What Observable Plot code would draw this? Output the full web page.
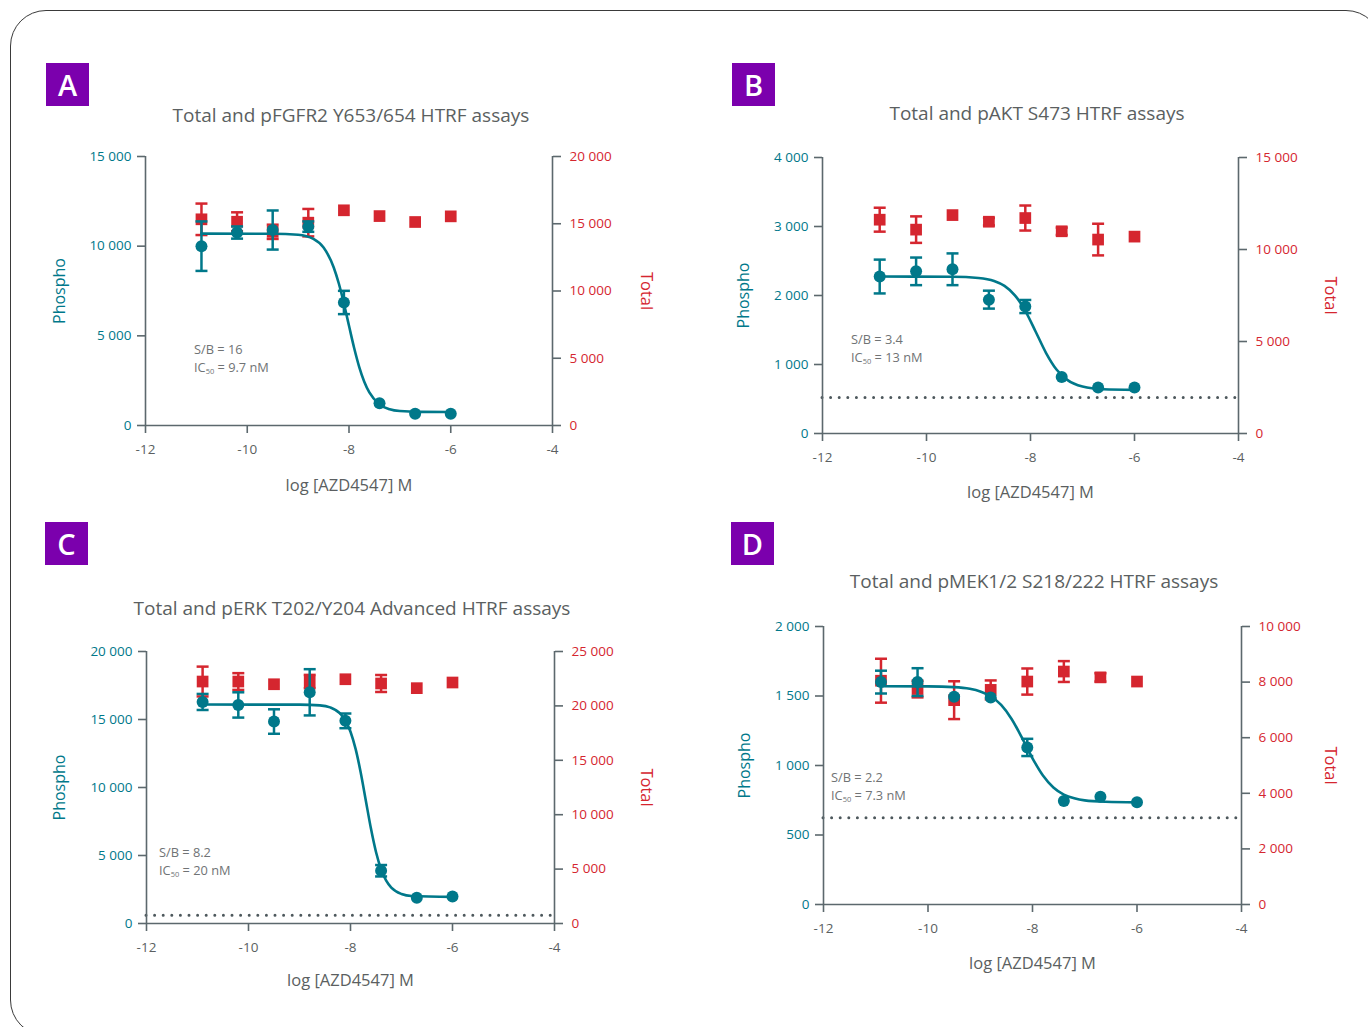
<!DOCTYPE html>
<html>
<head>
<meta charset="utf-8">
<script src="https://cdn.jsdelivr.net/npm/d3@7"></script>
<script src="https://cdn.jsdelivr.net/npm/@observablehq/plot@0.6"></script>
<style>
  html, body { margin: 0; padding: 0; background: #fff; }
  #root { position: relative; width: 1368px; height: 1027px; overflow: hidden; background: #fff;
          font-family: "Open Sans", "Noto Sans", sans-serif; }
  #card { position: absolute; left: 10px; top: 10px; width: 1372px; height: 1026px;
          border: 1.5px solid #3a3a3a; border-radius: 36px; box-sizing: border-box; }
  .letter { position: absolute; width: 43px; height: 43px; background: #7b00ad; color: #fff;
            font-size: 29px; font-weight: 600; line-height: 43px; text-align: center; }
  .title { position: absolute; width: 640px; text-align: center; color: #5b5f61;
           font-size: 19px; line-height: 24px; white-space: nowrap; }
  .note { position: absolute; color: #707375; font-size: 12.8px; line-height: 18px; white-space: nowrap; }
  .note sub { font-size: 7.5px; vertical-align: -2px; }
  .panel { position: absolute; }
</style>
</head>
<body>
<div id="root"><div id="card"></div></div>
<script>
// ---------------- data ----------------
const logDose = [-10.9, -10.2, -9.5, -8.8, -8.1, -7.4, -6.7, -6.0];
const xTicks = [-12, -10, -8, -6, -4];
const panelLetters = ["A", "B", "C", "D"];
const panelTitles = [
  "Total and pFGFR2 Y653/654 HTRF assays",
  "Total and pAKT S473 HTRF assays",
  "Total and pERK T202/Y204 Advanced HTRF assays",
  "Total and pMEK1/2 S218/222 HTRF assays"
];
const sbTexts = ["S/B = 16", "S/B = 3.4", "S/B = 8.2", "S/B = 2.2"];
const ic50Texts = ["9.7 nM", "13 nM", "20 nM", "7.3 nM"];
const xLabel = "log [AZD4547] M";
const leftLabel = "Phospho";
const rightLabel = "Total";

// Panel A
const phosphoA = [10000, 10760, 10900, 11090, 6860, 1240, 660, 660];
const phosphoErrA = [1380, 340, 1090, 290, 650, 0, 0, 0];
const totalA = [15330, 15150, 14400, 15080, 16000, 15570, 15130, 15550];
const totalErrA = [1170, 700, 530, 1020, 0, 0, 0, 0];
const curveXA = [-10.9, -9.5, -9.0, -8.7, -8.5, -8.3, -8.2, -8.1, -8.0, -7.9, -7.8, -7.7, -7.6, -7.4, -7.2, -7.0, -6.6, -6.0];
const curveYA = [10700, 10695, 10634, 10403, 9921, 8813, 7918, 6802, 5561, 4337, 3275, 2442, 1843, 1177, 909, 808, 760, 750];
const phosTicksA = [0, 5000, 10000, 15000];
const totTicksA = [0, 5000, 10000, 15000, 20000];

// Panel B
const phosphoB = [2275, 2350, 2380, 1940, 1840, 820, 665, 665];
const phosphoErrB = [245, 200, 230, 130, 95, 0, 0, 0];
const totalB = [11620, 11080, 11870, 11510, 11710, 10990, 10540, 10700];
const totalErrB = [650, 720, 0, 200, 680, 200, 860, 0];
const curveXB = [-10.9, -9.5, -9.0, -8.7, -8.5, -8.3, -8.1, -7.9, -7.7, -7.5, -7.3, -7.0, -6.6, -6.0];
const curveYB = [2275, 2272, 2254, 2210, 2139, 2003, 1778, 1475, 1166, 927, 781, 680, 641, 632];
const baselineB = [520];
const phosTicksB = [0, 1000, 2000, 3000, 4000];
const totTicksB = [0, 5000, 10000, 15000];

// Panel C
const phosphoC = [16290, 16070, 14850, 17000, 14900, 3880, 1890, 1990];
const phosphoErrC = [590, 930, 900, 1700, 540, 420, 0, 0];
const totalC = [22240, 22240, 21990, 22240, 22450, 22060, 21630, 22150];
const totalErrC = [1370, 770, 0, 610, 0, 780, 0, 0];
const curveXC = [-10.9, -9.0, -8.6, -8.4, -8.2, -8.1, -8.0, -7.9, -7.8, -7.7, -7.6, -7.5, -7.4, -7.3, -7.2, -7.0, -6.8, -6.0];
const curveYC = [16100, 16094, 16036, 15891, 15429, 14925, 14097, 12837, 11106, 9051, 6996, 5256, 3986, 3148, 2640, 2172, 2025, 1960];
const baselineC = [610];
const phosTicksC = [0, 5000, 10000, 15000, 20000];
const totTicksC = [0, 5000, 10000, 15000, 20000, 25000];

// Panel D
const phosphoD = [1600, 1600, 1495, 1490, 1130, 745, 775, 735];
const phosphoErrD = [82, 100, 0, 0, 62, 0, 0, 0];
const totalD = [8050, 7750, 7350, 7720, 8020, 8380, 8170, 8020];
const totalErrD = [790, 300, 680, 340, 470, 375, 150, 0];
const curveXD = [-10.9, -10.0, -9.5, -9.2, -9.0, -8.8, -8.6, -8.4, -8.2, -8.0, -7.8, -7.6, -7.4, -7.2, -7.0, -6.6, -6.0];
const curveYD = [1570, 1569, 1564, 1552, 1533, 1498, 1436, 1335, 1199, 1052, 928, 842, 791, 764, 749, 739, 735];
const baselineD = [625];
const phosTicksD = [0, 500, 1000, 1500, 2000];
const totTicksD = [0, 2000, 4000, 6000, 8000, 10000];

// ---------------- style / layout ----------------
const teal = "#00788a", red = "#d5262f", axisGray = "#5c686d", labelGray = "#5b5f61";
const fmt = d3.formatLocale({decimal: ".", thousands: " ", grouping: [3], currency: ["", ""]}).format(",d");

const layouts = [
  {L: 145, R: 552, T: 156, B: 425, letter: [46, 63], title: [351, 115], note: [194, 340], xdy: 60, pdx: -86, tdx: 94},
  {L: 822, R: 1238, T: 157, B: 433, letter: [732, 63], title: [1037, 113], note: [851, 330], xdy: 59, pdx: -79, tdx: 92},
  {L: 146, R: 554, T: 651, B: 923, letter: [45, 522], title: [352, 608], note: [159, 843], xdy: 57, pdx: -87, tdx: 92},
  {L: 823, R: 1241, T: 626, B: 904, letter: [731, 522], title: [1034, 581], note: [831, 768], xdy: 59, pdx: -79, tdx: 89}
];

const panelsData = [
  {phospho: phosphoA, phosphoErr: phosphoErrA, total: totalA, totalErr: totalErrA, cx: curveXA, cy: curveYA, base: [], pt: phosTicksA, tt: totTicksA},
  {phospho: phosphoB, phosphoErr: phosphoErrB, total: totalB, totalErr: totalErrB, cx: curveXB, cy: curveYB, base: baselineB, pt: phosTicksB, tt: totTicksB},
  {phospho: phosphoC, phosphoErr: phosphoErrC, total: totalC, totalErr: totalErrC, cx: curveXC, cy: curveYC, base: baselineC, pt: phosTicksC, tt: totTicksC},
  {phospho: phosphoD, phosphoErr: phosphoErrD, total: totalD, totalErr: totalErrD, cx: curveXD, cy: curveYD, base: baselineD, pt: phosTicksD, tt: totTicksD}
];

// horizontal cap symbol for error bars
const capSymbol = {
  draw(context, size) {
    const w = Math.sqrt(size / Math.PI);
    context.moveTo(-w, 0);
    context.lineTo(w, 0);
  }
};

const root = document.getElementById("root");
const mL = 110, mR = 120, mT = 30, mB = 80;

panelsData.forEach((pd, i) => {
  const lay = layouts[i];
  const phosMax = pd.pt[pd.pt.length - 1];
  const totMax = pd.tt[pd.tt.length - 1];
  const k = phosMax / totMax;
  const pts = logDose.map((x, j) => ({x, p: pd.phospho[j], pe: pd.phosphoErr[j], t: pd.total[j] * k, te: pd.totalErr[j] * k}));
  const pErr = pts.filter(d => d.pe > 0);
  const tErr = pts.filter(d => d.te > 0);
  const curve = pd.cx.map((x, j) => ({x, y: pd.cy[j]}));
  const pCaps = pErr.flatMap(d => [{x: d.x, y: d.p - d.pe}, {x: d.x, y: d.p + d.pe}]);
  const tCaps = tErr.flatMap(d => [{x: d.x, y: d.t - d.te}, {x: d.x, y: d.t + d.te}]);

  const width = (lay.R - lay.L) + mL + mR;
  const height = (lay.B - lay.T) + mT + mB;

  const chart = Plot.plot({
    width, height,
    marginLeft: mL, marginRight: mR, marginTop: mT, marginBottom: mB,
    style: {fontFamily: '"Open Sans", "Noto Sans", sans-serif', fontSize: "13.5px", background: "transparent", overflow: "visible"},
    x: {domain: [-12, -4], label: null},
    y: {domain: [0, phosMax], label: null},
    marks: [
      Plot.ruleY(pd.base, {stroke: "#4d585c", strokeWidth: 3, strokeDasharray: "0 8.6", strokeLinecap: "round"}),
      Plot.ruleX([-12, -4], {stroke: axisGray, strokeWidth: 1.6}),
      Plot.ruleY([0], {stroke: axisGray, strokeWidth: 1.6}),
      Plot.axisX({ticks: xTicks, tickFormat: d => String(d), tickSize: 8, tickPadding: 11, stroke: axisGray, strokeWidth: 1.6, fill: labelGray, label: null}),
      Plot.axisY({anchor: "left", ticks: pd.pt, tickFormat: fmt, tickSize: 8, tickPadding: 6, stroke: axisGray, strokeWidth: 1.6, fill: teal, label: null}),
      Plot.axisY({anchor: "right", ticks: pd.tt.map(t => t * k), tickFormat: d => fmt(Math.round(d / k)), tickSize: 8, tickPadding: 9, stroke: axisGray, strokeWidth: 1.6, fill: red, label: null}),
      Plot.text([xLabel], {text: d => d, frameAnchor: "bottom", dy: lay.xdy, textAnchor: "middle", lineAnchor: "middle", fill: labelGray, fontSize: 16.5}),
      Plot.text([leftLabel], {text: d => d, frameAnchor: "left", dx: lay.pdx, rotate: -90, textAnchor: "middle", lineAnchor: "middle", fill: teal, fontSize: 16}),
      Plot.text([rightLabel], {text: d => d, frameAnchor: "right", dx: lay.tdx, rotate: 90, textAnchor: "middle", lineAnchor: "middle", fill: red, fontSize: 16.5}),
      // total (red squares)
      Plot.ruleX(tErr, {x: "x", y1: d => d.t - d.te, y2: d => d.t + d.te, stroke: red, strokeWidth: 2.5}),
      Plot.dot(tCaps, {x: "x", y: "y", symbol: capSymbol, r: 6, stroke: red, strokeWidth: 2.5, fill: "none"}),
      Plot.dot(pts, {x: "x", y: "t", symbol: "square", r: 6.6, fill: red, stroke: "none"}),
      // phospho (teal curve and circles)
      Plot.line(curve, {x: "x", y: "y", curve: "monotone-x", stroke: teal, strokeWidth: 2.6}),
      Plot.ruleX(pErr, {x: "x", y1: d => d.p - d.pe, y2: d => d.p + d.pe, stroke: teal, strokeWidth: 2.5}),
      Plot.dot(pCaps, {x: "x", y: "y", symbol: capSymbol, r: 6, stroke: teal, strokeWidth: 2.5, fill: "none"}),
      Plot.dot(pts, {x: "x", y: "p", r: 6, fill: teal, stroke: "none"})
    ]
  });
  chart.classList.add("panel");
  chart.style.left = (lay.L - mL) + "px";
  chart.style.top = (lay.T - mT) + "px";
  root.appendChild(chart);

  const letter = document.createElement("div");
  letter.className = "letter";
  letter.style.left = lay.letter[0] + "px";
  letter.style.top = lay.letter[1] + "px";
  letter.textContent = panelLetters[i];
  root.appendChild(letter);

  const title = document.createElement("div");
  title.className = "title";
  title.style.left = (lay.title[0] - 320) + "px";
  title.style.top = (lay.title[1] - 12) + "px";
  title.textContent = panelTitles[i];
  root.appendChild(title);

  const note = document.createElement("div");
  note.className = "note";
  note.style.left = lay.note[0] + "px";
  note.style.top = lay.note[1] + "px";
  note.innerHTML = sbTexts[i] + "<br>IC<sub>50</sub> = " + ic50Texts[i];
  root.appendChild(note);
});
</script>
</body>
</html>
